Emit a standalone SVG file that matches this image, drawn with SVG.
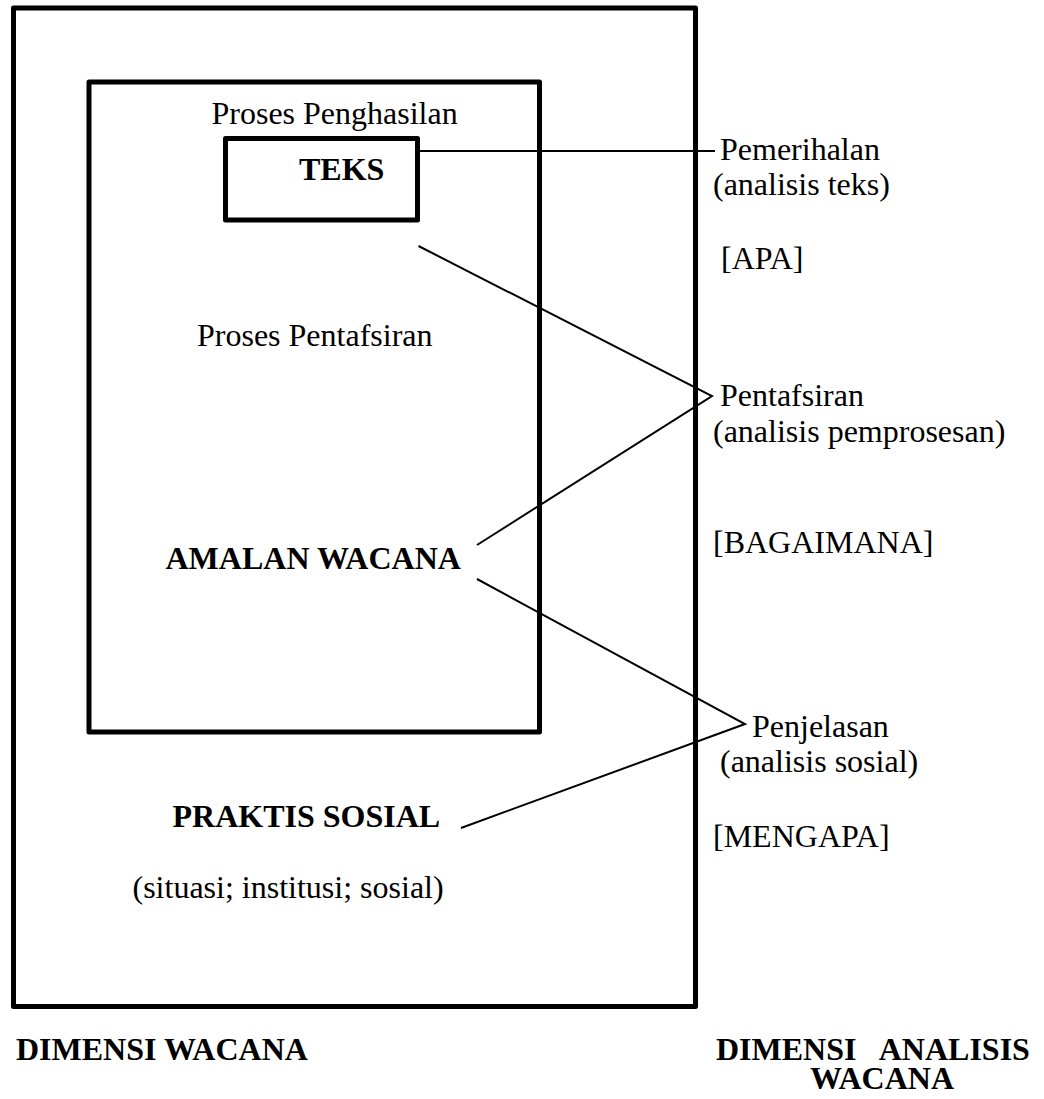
<svg xmlns="http://www.w3.org/2000/svg" width="1044" height="1099" viewBox="0 0 1044 1099">
<style>
.box{fill:none;stroke:#000;stroke-width:5;stroke-linejoin:round}
.ln{fill:none;stroke:#000;stroke-width:2;stroke-linejoin:miter}
.t{font-family:"Liberation Serif","Times New Roman",serif;font-size:32px;fill:#000}
.b{font-weight:bold}
</style>
<rect width="1044" height="1099" fill="#fff"/>
<g id="dimensi-wacana">
  <rect class="box" x="13.5" y="8" width="682" height="998.5"/>
  <text class="t b" x="16" y="1060">DIMENSI WACANA</text>
</g>
<g id="amalan-wacana">
  <rect class="box" x="89" y="82" width="450.5" height="650"/>
  <text class="t" x="211.5" y="124">Proses Penghasilan</text>
  <text class="t" x="197" y="346">Proses Pentafsiran</text>
  <text class="t b" x="165.5" y="569">AMALAN WACANA</text>
</g>
<g id="teks">
  <rect class="box" x="225.5" y="138.5" width="192" height="81.5"/>
  <text class="t b" x="299" y="180">TEKS</text>
</g>
<g id="praktis-sosial">
  <text class="t b" x="172.5" y="827">PRAKTIS SOSIAL</text>
  <text class="t" x="132.5" y="898">(situasi; institusi; sosial)</text>
</g>
<g id="pemerihalan">
  <text class="t" x="720" y="160">Pemerihalan</text>
  <text class="t" x="713" y="195">(analisis teks)</text>
  <text class="t" x="721" y="269">[APA]</text>
</g>
<g id="pentafsiran">
  <text class="t" x="720" y="406">Pentafsiran</text>
  <text class="t" x="713" y="442">(analisis pemprosesan)</text>
  <text class="t" x="713" y="553">[BAGAIMANA]</text>
</g>
<g id="penjelasan">
  <text class="t" x="752" y="737">Penjelasan</text>
  <text class="t" x="720" y="772">(analisis sosial)</text>
  <text class="t" x="713" y="847">[MENGAPA]</text>
</g>
<g id="dimensi-analisis">
  <text class="t b" x="716" y="1060" xml:space="preserve">DIMENSI   ANALISIS</text>
  <text class="t b" x="810" y="1089">WACANA</text>
</g>
<g id="connectors">
  <line class="ln" x1="420" y1="151" x2="715" y2="151"/>
  <polyline class="ln" points="418.5,246 712,396 477,545"/>
  <polyline class="ln" points="477,579 745,724 461,828"/>
</g>
</svg>
